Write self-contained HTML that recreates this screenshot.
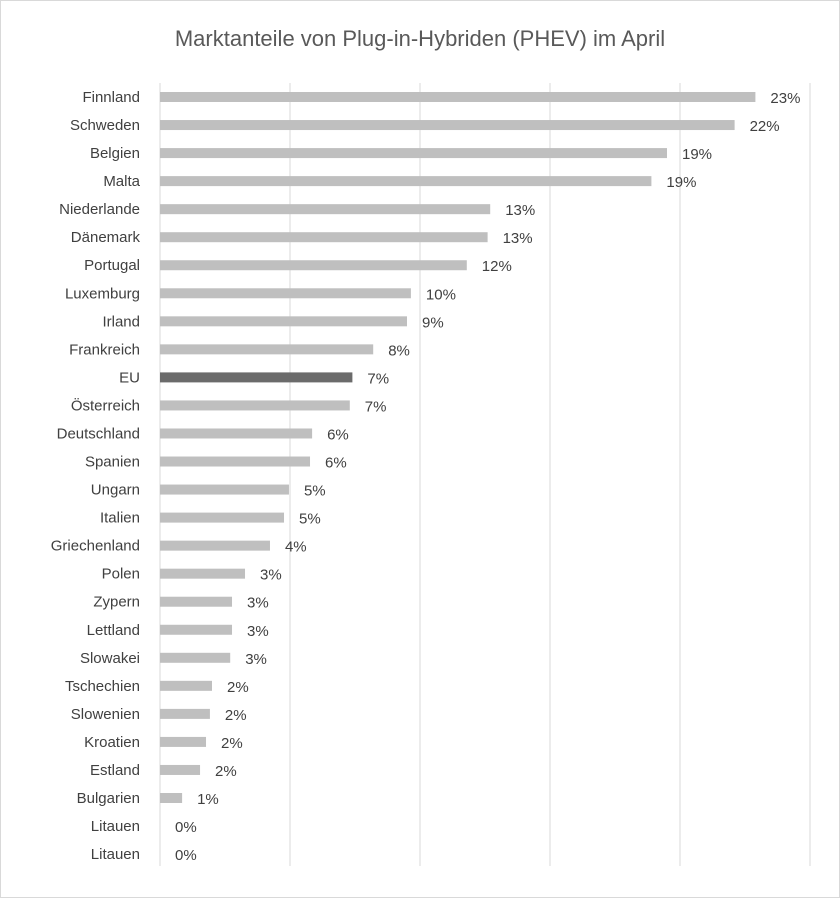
<!DOCTYPE html>
<html><head><meta charset="utf-8"><style>
body{margin:0;background:#fff;}
svg{display:block;font-family:"Liberation Sans",sans-serif;}
</style></head><body>
<svg id="chart" width="840" height="898">
<rect x="0.5" y="0.5" width="839" height="897" fill="#fff" stroke="#d9d9d9"/>
<text x="420" y="46" text-anchor="middle" font-size="22" fill="#595959">Marktanteile von Plug-in-Hybriden (PHEV) im April</text>
<g id="grid"></g><g id="bars"></g>
</svg>
<script>
const categories=["Finnland","Schweden","Belgien","Malta","Niederlande","Dänemark","Portugal","Luxemburg","Irland","Frankreich","EU","Österreich","Deutschland","Spanien","Ungarn","Italien","Griechenland","Polen","Zypern","Lettland","Slowakei","Tschechien","Slowenien","Kroatien","Estland","Bulgarien","Litauen","Litauen"];
const values=[22.9,22.1,19.5,18.9,12.7,12.6,11.8,9.65,9.5,8.2,7.4,7.3,5.85,5.77,4.96,4.77,4.23,3.27,2.77,2.77,2.7,2.0,1.92,1.77,1.54,0.85,0,0];
const labels=["23%","22%","19%","19%","13%","13%","12%","10%","9%","8%","7%","7%","6%","6%","5%","5%","4%","3%","3%","3%","3%","2%","2%","2%","2%","1%","0%","0%"];
const gridTicks=[0,5,10,15,20,25];
const NS="http://www.w3.org/2000/svg";
const x0=160,pxPer=26,y0=97,step=28.04,bh=10;
const xs=v=>x0+v*pxPer, ys=i=>y0+i*step;
const grid=document.getElementById('grid'),bars=document.getElementById('bars');
function mk(t,a,p){const e=document.createElementNS(NS,t);for(const k in a)e.setAttribute(k,a[k]);p.appendChild(e);return e;}
gridTicks.forEach(t=>{
  const l=mk('line',{x1:xs(t),x2:xs(t),y1:83,y2:866,stroke:'#d9d9d9','stroke-width':1},grid);
  
  
});
categories.forEach((c,i)=>{
  const y=ys(i);
  const lab=mk('text',{x:140,y:y+5,'text-anchor':'end','font-size':15,fill:'#404040'},bars);
  lab.textContent=c;
  
  
  const r=mk('rect',{x:x0,y:y-bh/2,width:Math.max(0,xs(values[i])-x0),height:bh,fill:c==='EU'?'#6b6b6b':'#bfbfbf'},bars);
  
  
  const v=mk('text',{x:xs(values[i])+15,y:y+6,'font-size':15,fill:'#404040'},bars);
  v.textContent=labels[i];
  
  
});
</script>
</body></html>
